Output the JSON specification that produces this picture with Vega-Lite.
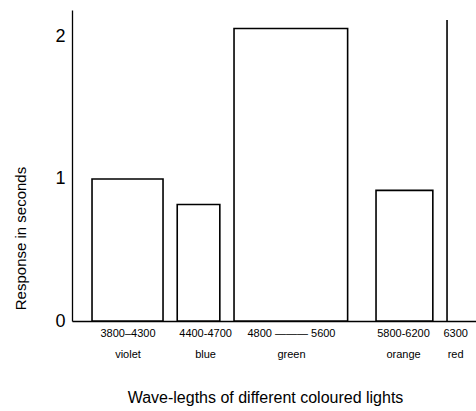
{
  "$schema": "https://vega.github.io/schema/vega-lite/v6.json",
  "width": 404,
  "height": 311,
  "autosize": {"type": "none"},
  "padding": {"left": 72, "top": 10, "right": 0, "bottom": 90},
  "background": "white",
  "config": {"view": {"stroke": null}, "font": "Liberation Sans"},
  "data": {"values": [
    {"colour": "violet", "from": 3800, "to": 4300, "response": 1.0},
    {"colour": "blue", "from": 4400, "to": 4700, "response": 0.82},
    {"colour": "green", "from": 4800, "to": 5600, "response": 2.06},
    {"colour": "orange", "from": 5800, "to": 6200, "response": 0.92},
    {"colour": "red", "from": 6300, "to": 6300, "response": 2.12}
  ]},
  "layer": [
    {
      "transform": [{"filter": "datum.colour != 'red'"}],
      "mark": {"type": "rect", "fill": "white", "stroke": "black", "strokeWidth": 1.6},
      "encoding": {
        "x": {"field": "from", "type": "quantitative",
          "scale": {"domain": [3659, 6504], "nice": false, "zero": false},
          "axis": {
            "title": "Wave-legths of different coloured lights",
            "values": [4050, 4596, 5201, 5990, 6357],
            "labelExpr": "datum.value == 4050 ? ['3800\u20134300', 'violet'] : datum.value == 4596 ? ['4400-4700', 'blue'] : datum.value == 5201 ? ['4800 \u2014\u2014\u2014 5600', 'green'] : datum.value == 5990 ? ['5800-6200', 'orange'] : ['6300', 'red']",
            "ticks": false,
            "grid": false,
            "labelFontSize": 11,
            "labelLineHeight": 21,
            "labelPadding": 6,
            "labelColor": "black",
            "labelFlush": false,
            "labelOverlap": false,
            "domainColor": "black",
            "domainWidth": 1.3,
            "titleFontSize": 16,
            "titleFontWeight": "normal",
            "titleColor": "black",
            "titleX": 193,
            "titleY": 76,
            "titleBaseline": "middle",
            "titleAnchor": null
          }
        },
        "x2": {"field": "to"},
        "y": {"field": "response", "type": "quantitative",
          "scale": {"domain": [0, 2.19], "nice": false},
          "axis": {
            "title": "Response in seconds",
            "values": [0, 1, 2],
            "format": "d",
            "ticks": false,
            "grid": false,
            "labelFontSize": 18,
            "labelPadding": 7,
            "labelColor": "black",
            "labelFlush": false,
            "domainColor": "black",
            "domainWidth": 1.3,
            "titleFontSize": 15,
            "titleFontWeight": "normal",
            "titleColor": "black",
            "titleX": -52,
            "titleY": 228,
            "titleBaseline": "middle"
          }
        },
        "y2": {"datum": 0}
      }
    },
    {
      "transform": [{"filter": "datum.colour == 'red'"}],
      "mark": {"type": "rule", "stroke": "black", "strokeWidth": 1.6},
      "encoding": {
        "x": {"field": "from", "type": "quantitative"},
        "y": {"field": "response", "type": "quantitative"},
        "y2": {"datum": 0}
      }
    }
  ]
}
